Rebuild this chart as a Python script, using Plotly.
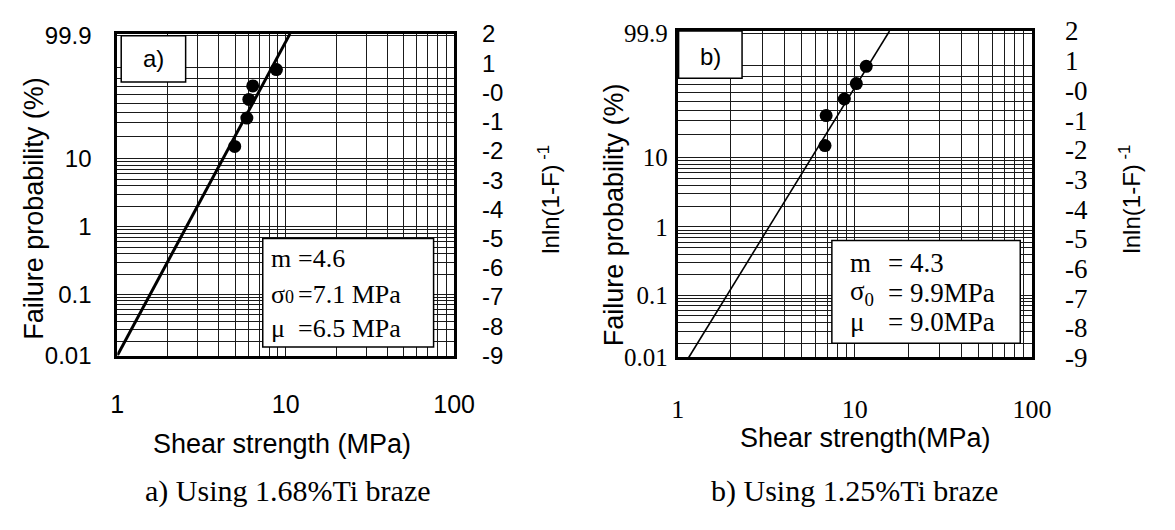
import numpy as np
import plotly.graph_objects as go

W, H = 1175, 530
ARIAL = "Liberation Sans, Arial, sans-serif"
TIMES = "Liberation Serif, Times New Roman, serif"

# ---------------- data ----------------
# panel a) 1.68%Ti braze
shear_a = [4.98, 5.88, 6.04, 6.37, 8.81]          # MPa
lnln_a = [-1.85, -0.88, -0.24, 0.22, 0.78]        # ln ln (1-F)^-1
fit_a_x = [1.0, 10.6]
fit_a_y = [-9.0, 2.0]

# panel b) 1.25%Ti braze
shear_b = [6.79, 6.89, 8.73, 10.2, 11.6]
lnln_b = [-1.86, -0.85, -0.29, 0.23, 0.81]
fit_b_x = [1.155, 15.7]
fit_b_y = [-9.0, 2.0]

# probability-paper grid (failure probability, %)
grid_F = [0.02, 0.03, 0.04, 0.05, 0.06, 0.07, 0.08, 0.09,
          0.1, 0.2, 0.3, 0.4, 0.5, 0.6, 0.7, 0.8, 0.9,
          1, 2, 3, 4, 5, 6, 7, 8, 9,
          10, 20, 30, 40, 50, 60, 70, 80, 90, 99.9]
left_labels_F = [99.9, 10, 1, 0.1, 0.01]
left_labels_txt = ["99.9", "10", "1", "0.1", "0.01"]
right_vals = [2, 1, 0, -1, -2, -3, -4, -5, -6, -7, -8, -9]
right_txt = ["2", "1", "-0", "-1", "-2", "-3", "-4", "-5", "-6", "-7", "-8", "-9"]

x_grid = [1, 2, 3, 4, 5, 6, 7, 8, 9, 10, 20, 30, 40, 50, 60, 70, 80, 90, 100]
x_labels = {1: "1", 10: "10", 100: "100"}

Y_MIN, Y_MAX = -9.0, 2.0


def lnln(F):
    return float(np.log(-np.log(1.0 - F / 100.0)))


# left axis ticks: grid lines + labels
left_map = {}
for F in grid_F:
    left_map[round(lnln(F), 6)] = ""
for F, t in zip(left_labels_F, left_labels_txt):
    v = max(Y_MIN, lnln(F))
    left_map[round(v, 6)] = t
left_vals = sorted(left_map)
left_text = [left_map[v] for v in left_vals]
x_text = [x_labels.get(v, "") for v in x_grid]


def px(x):
    return x / W


def py(y):
    return 1 - y / H


fig = go.Figure()
# fitted lines live on the right-hand (ln ln) axes, points on the left axes (same range)
fig.add_trace(go.Scatter(x=fit_a_x, y=fit_a_y, mode="lines",
                         line=dict(color="black", width=3),
                         xaxis="x", yaxis="y2", showlegend=False))
fig.add_trace(go.Scatter(x=shear_a, y=lnln_a, mode="markers",
                         marker=dict(color="black", size=13),
                         xaxis="x", yaxis="y", showlegend=False))
fig.add_trace(go.Scatter(x=fit_b_x, y=fit_b_y, mode="lines",
                         line=dict(color="black", width=1.6),
                         xaxis="x2", yaxis="y4", showlegend=False))
fig.add_trace(go.Scatter(x=shear_b, y=lnln_b, mode="markers",
                         marker=dict(color="black", size=13),
                         xaxis="x2", yaxis="y3", showlegend=False))


def xaxis_cfg(domain, anchor, fam, size, standoff):
    return dict(type="log", range=[0, 2], domain=domain, anchor=anchor,
                tickmode="array", tickvals=x_grid, ticktext=x_text,
                showgrid=True, gridcolor="#1a1a1a", gridwidth=1,
                showline=True, mirror=True, linecolor="black", linewidth=3,
                ticks="", zeroline=False,
                tickfont=dict(family=fam, size=size, color="black"),
                ticklabelstandoff=standoff)


def yaxis_cfg(domain, anchor, fam, size, standoff):
    return dict(range=[Y_MIN, Y_MAX], domain=domain, anchor=anchor,
                tickmode="array", tickvals=left_vals, ticktext=left_text,
                showgrid=True, gridcolor="#1a1a1a", gridwidth=1,
                showline=True, mirror=True, linecolor="black", linewidth=3,
                ticks="", zeroline=False,
                tickfont=dict(family=fam, size=size, color="black"),
                ticklabelstandoff=standoff)


def yright_cfg(overlay, anchor, fam, size, standoff):
    return dict(range=[Y_MIN, Y_MAX], overlaying=overlay, side="right", anchor=anchor,
                tickmode="array", tickvals=right_vals, ticktext=right_txt,
                showgrid=False, zeroline=False, showline=False, ticks="",
                tickfont=dict(family=fam, size=size, color="black"),
                ticklabelstandoff=standoff)


fig.update_layout(
    width=W, height=H, margin=dict(l=0, r=0, t=0, b=0),
    paper_bgcolor="white", plot_bgcolor="white",
    xaxis=xaxis_cfg([px(113), px(458)], "y", ARIAL, 25, 24),
    yaxis=yaxis_cfg([py(361), py(20)], "x", ARIAL, 24, 18),
    yaxis2=yright_cfg("y", "x", ARIAL, 24, 27),
    xaxis2=xaxis_cfg([px(687), px(1050)], "y3", TIMES, 26, 26),
    yaxis3=yaxis_cfg([py(363), py(17)], "x2", TIMES, 25, 2),
    yaxis4=yright_cfg("y3", "x2", TIMES, 27, 32),
)

shapes = []
ann = []


def box(x0, y0, x1, y1, lw=1.5):
    shapes.append(dict(type="rect", xref="paper", yref="paper",
                       x0=px(x0), x1=px(x1), y0=py(y1), y1=py(y0),
                       fillcolor="white", line=dict(color="black", width=lw),
                       layer="above"))


def text(x, y, s, fam, size, xanchor="center", angle=0):
    ann.append(dict(x=px(x), y=py(y), xref="paper", yref="paper", text=s,
                    showarrow=False, xanchor=xanchor, yanchor="middle",
                    textangle=angle,
                    font=dict(family=fam, size=size, color="black")))


# panel a boxes
box(117, 22, 183, 71)
text(150, 46, "a)", ARIAL, 24)
box(262, 237, 437, 352)
text(268, 258, "m", TIMES, 26, "left")
text(296, 258, "=4.6", TIMES, 26, "left")
text(268, 296, "σ<span style='font-size:18px'>0</span>", TIMES, 26, "left")
text(296, 296, "=7.1 MPa", TIMES, 26, "left")
text(268, 332, "μ", TIMES, 26, "left")
text(296, 332, "=6.5 MPa", TIMES, 26, "left")

# panel b boxes
box(688, 17, 753, 67)
text(721, 44, "b)", ARIAL, 24)
box(845, 239, 1038, 348)
text(862, 263, "m", TIMES, 27, "left")
text(900, 263, "= 4.3", TIMES, 27, "left")
text(862, 295, "σ<sub>0</sub>", TIMES, 27, "left")
text(900, 295, "= 9.9MPa", TIMES, 27, "left")
text(862, 325, "μ", TIMES, 27, "left")
text(900, 325, "= 9.0MPa", TIMES, 27, "left")

# axis titles
text(28, 205, "Failure probability (%)", ARIAL, 27, angle=-90)
text(555, 195, "lnln(1-F)<sup> -1</sup>", ARIAL, 24, angle=-90)
text(282, 455, "Shear strength (MPa)", ARIAL, 27)
text(622, 212, "Failure probability (%)", ARIAL, 27, angle=-90)
text(1150, 195, "lnln(1-F)<sup> -1</sup>", ARIAL, 24, angle=-90)
text(879, 448, "Shear strength(MPa)", ARIAL, 27)

# captions
text(288, 505, "a) Using 1.68%Ti braze", TIMES, 30)
text(868, 505, "b) Using 1.25%Ti braze", TIMES, 30)

fig.update_layout(shapes=shapes, annotations=ann)
fig.write_html("out.html")
